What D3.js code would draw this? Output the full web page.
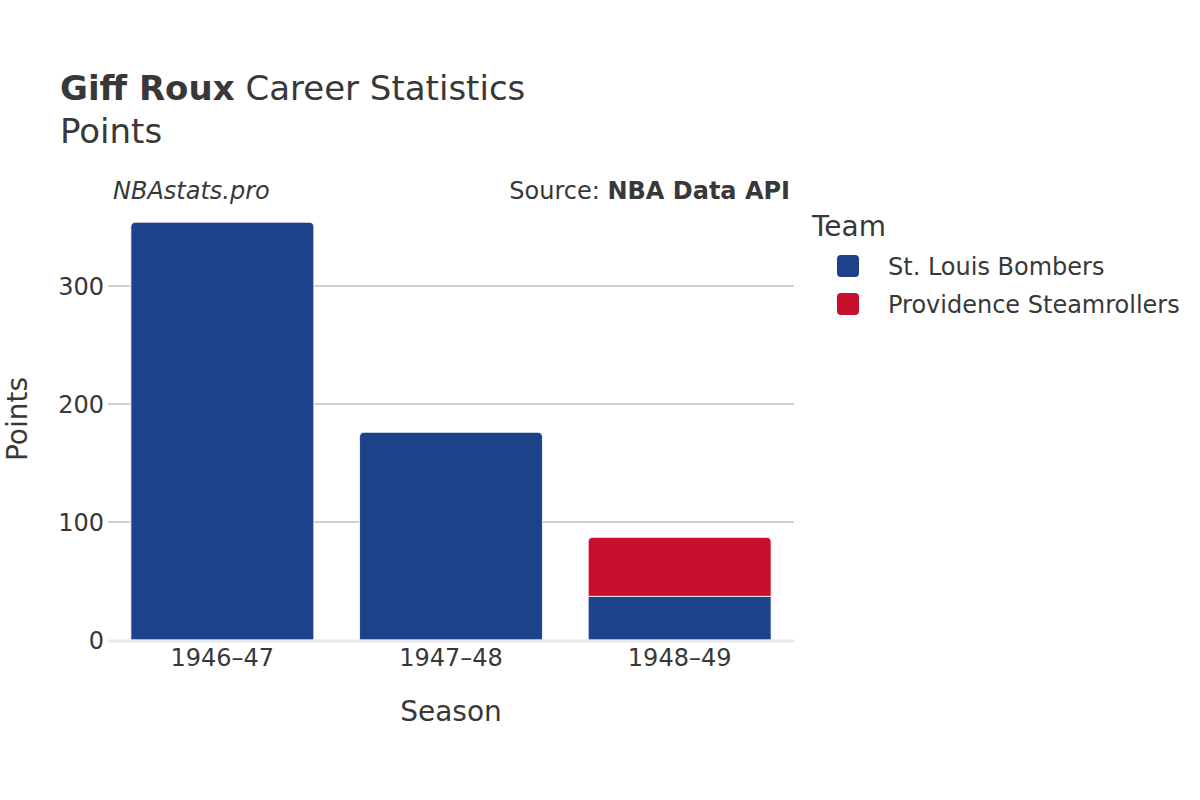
<!DOCTYPE html>
<html>
<head>
<meta charset="utf-8">
<script src="https://cdn.jsdelivr.net/npm/d3@7"></script>
<style>
  body { margin: 0; background: #fff; }
  text { font-family: "DejaVu Sans", sans-serif; fill: #383838; }
</style>
</head>
<body>
<svg id="chart" width="1200" height="800"></svg>
<script>
const seasons = ["1946–47", "1947–48", "1948–49"];
const teams = ["St. Louis Bombers", "Providence Steamrollers"];
const teamColors = ["#1d428a", "#c8102e"];
const bombersPts = [354, 176, 37];
const steamrollersPts = [0, 0, 50];
const yTicks = [0, 100, 200, 300];

const svg = d3.select("#chart");
const margin = { left: 108, right: 794, top: 210, bottom: 640 };

const x = d3.scaleBand()
  .domain(seasons)
  .range([margin.left, margin.right])
  .paddingInner(0.2)
  .paddingOuter(0.1);

const y = d3.scaleLinear()
  .domain([0, 363])
  .range([margin.bottom, margin.bottom - 363 * 1.18]);

// gridlines
svg.append("g")
  .selectAll("line")
  .data(yTicks.filter(d => d > 0))
  .enter()
  .append("line")
  .attr("x1", margin.left)
  .attr("x2", margin.right)
  .attr("y1", d => y(d))
  .attr("y2", d => y(d))
  .attr("stroke", "#a0a0a0")
  .attr("stroke-width", 1);

// y tick labels
svg.append("g")
  .selectAll("text")
  .data(yTicks)
  .enter()
  .append("text")
  .attr("x", margin.left - 4)
  .attr("y", d => y(d))
  .attr("dy", "0.36em")
  .attr("text-anchor", "end")
  .style("font-size", "24px")
  .text(d => d);

// stacked data
const rows = seasons.map((s, i) => ({ season: s, a: bombersPts[i], b: steamrollersPts[i] }));
const stack = d3.stack().keys(["a", "b"])(rows);

function barPath(x0, w, yTop, yBot, r) {
  if (r <= 0) return `M${x0},${yBot}V${yTop}H${x0 + w}V${yBot}Z`;
  return `M${x0},${yBot}V${yTop + r}Q${x0},${yTop} ${x0 + r},${yTop}` +
    `H${x0 + w - r}Q${x0 + w},${yTop} ${x0 + w},${yTop + r}V${yBot}Z`;
}

stack.forEach((layer, li) => {
  svg.append("g")
    .selectAll("path")
    .data(layer.filter(d => d[1] > d[0]))
    .enter()
    .append("path")
    .attr("d", d => {
      const isTop = li === stack.length - 1 || d.data.b === 0;
      return barPath(x(d.data.season), x.bandwidth(), y(d[1]), y(d[0]), isTop ? 5 : 0);
    })
    .attr("fill", teamColors[li])
    .attr("stroke", "#fff")
    .attr("stroke-width", 0.8);
});

// zero line
svg.append("line")
  .attr("x1", margin.left)
  .attr("x2", margin.right)
  .attr("y1", y(0) + 1)
  .attr("y2", y(0) + 1)
  .attr("stroke", "#e8e8e8")
  .attr("stroke-width", 3);

// x labels
svg.append("g")
  .selectAll("text")
  .data(seasons)
  .enter()
  .append("text")
  .attr("x", d => x(d) + x.bandwidth() / 2)
  .attr("y", 666)
  .attr("text-anchor", "middle")
  .style("font-size", "24px")
  .text(d => d);

// axis titles
svg.append("text")
  .attr("x", (margin.left + margin.right) / 2)
  .attr("y", 721)
  .attr("text-anchor", "middle")
  .style("font-size", "28px")
  .text("Season");

svg.append("text")
  .attr("transform", "translate(17,419) rotate(-90)")
  .attr("text-anchor", "middle")
  .attr("dy", "0.36em")
  .style("font-size", "28px")
  .text("Points");

// title
const title = svg.append("text").attr("x", 60).attr("y", 100).style("font-size", "34px");
title.append("tspan").style("font-weight", "bold").text("Giff Roux");
title.append("tspan").text(" Career Statistics");
svg.append("text").attr("x", 60).attr("y", 143).style("font-size", "34px").text("Points");

svg.append("text")
  .attr("x", 113).attr("y", 199)
  .style("font-size", "24px").style("font-style", "italic")
  .text("NBAstats.pro");

const src = svg.append("text").attr("x", 790).attr("y", 199)
  .attr("text-anchor", "end").style("font-size", "24px");
src.append("tspan").text("Source: ");
src.append("tspan").style("font-weight", "bold").text("NBA Data API");

// legend
svg.append("text").attr("x", 812).attr("y", 236).style("font-size", "28px").text("Team");
const leg = svg.append("g")
  .selectAll("g")
  .data(teams)
  .enter()
  .append("g")
  .attr("transform", (d, i) => `translate(837,${255 + i * 38})`);
leg.append("rect")
  .attr("width", 22).attr("height", 22).attr("rx", 4)
  .attr("fill", (d, i) => teamColors[i]);
leg.append("text")
  .attr("x", 51).attr("y", 11).attr("dy", "0.36em")
  .style("font-size", "24px")
  .text(d => d);
</script>
</body>
</html>
